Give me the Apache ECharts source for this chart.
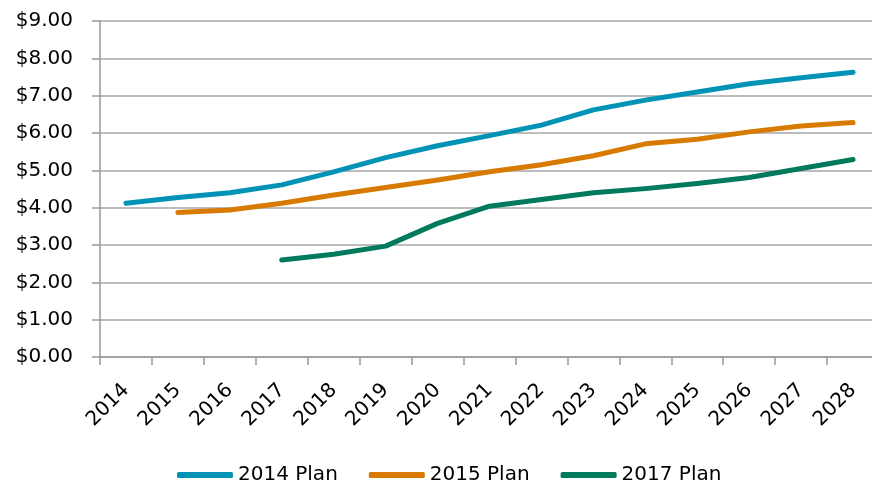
<!DOCTYPE html>
<html>
<head>
<meta charset="utf-8">
<script src="https://cdn.jsdelivr.net/npm/echarts@6/dist/echarts.min.js"></script>
<style>html,body{margin:0;padding:0;background:#fff;}#c{width:872px;height:486px;}</style>
</head>
<body>
<div id="c"></div>
<script>
var years = ['2014','2015','2016','2017','2018','2019','2020','2021','2022','2023','2024','2025','2026','2027','2028'];
var plan2014 = [4.12, 4.27, 4.40, 4.61, 4.96, 5.34, 5.66, 5.93, 6.21, 6.62, 6.88, 7.10, 7.32, 7.48, 7.63];
var plan2015 = [null, 3.87, 3.94, 4.12, 4.34, 4.54, 4.74, 4.96, 5.15, 5.39, 5.71, 5.83, 6.03, 6.19, 6.28];
var plan2017 = [null, null, null, 2.60, 2.75, 2.97, 3.58, 4.04, 4.22, 4.40, 4.51, 4.65, 4.81, 5.05, 5.29];
var seriesNames = ['2014 Plan', '2015 Plan', '2017 Plan'];
var colors = ['#0093B6', '#D97A00', '#007A5C'];

var font = 'DejaVu Sans';
var chart = echarts.init(document.getElementById('c'), null, {renderer: 'canvas'});
function mk(name, data, color) {
  return {
    name: name, type: 'line', data: data, showSymbol: false, symbol: 'none',
    connectNulls: false, animation: false,
    lineStyle: {width: 5, color: color, cap: 'round', join: 'round'},
    itemStyle: {color: color}
  };
}
chart.setOption({
  animation: false,
  color: colors,
  grid: {left: 100, top: 21, width: 779, height: 336, containLabel: false, outerBoundsMode: 'none'},
  xAxis: {
    type: 'category', data: years, boundaryGap: true,
    axisLine: {show: true, lineStyle: {color: '#999999', width: 1.5}},
    axisTick: {show: true, length: 8, lineStyle: {color: '#999999', width: 1.5}},
    axisLabel: {rotate: 45, margin: 30, fontFamily: font, fontSize: 20, color: '#000', interval: 0},
    splitLine: {show: false}
  },
  yAxis: {
    type: 'value', min: 0, max: 9, interval: 1,
    axisLine: {show: true, lineStyle: {color: '#999999', width: 1.5}},
    axisTick: {show: true, length: 8, lineStyle: {color: '#999999', width: 1.5}},
    axisLabel: {margin: 27, fontFamily: font, fontSize: 20, color: '#000',
      formatter: function (v) { return '$' + v.toFixed(2); }},
    splitLine: {show: true, lineStyle: {color: '#A6A6A6', width: 1.5}}
  },
  legend: {
    data: seriesNames, left: 177, top: 465, padding: 0, itemWidth: 56, itemHeight: 6, itemGap: 31,
    icon: 'roundRect',
    textStyle: {fontFamily: font, fontSize: 20, color: '#000'}
  },
  series: [
    mk(seriesNames[0], plan2014, colors[0]),
    mk(seriesNames[1], plan2015, colors[1]),
    mk(seriesNames[2], plan2017, colors[2])
  ]
});
</script>
</body>
</html>
